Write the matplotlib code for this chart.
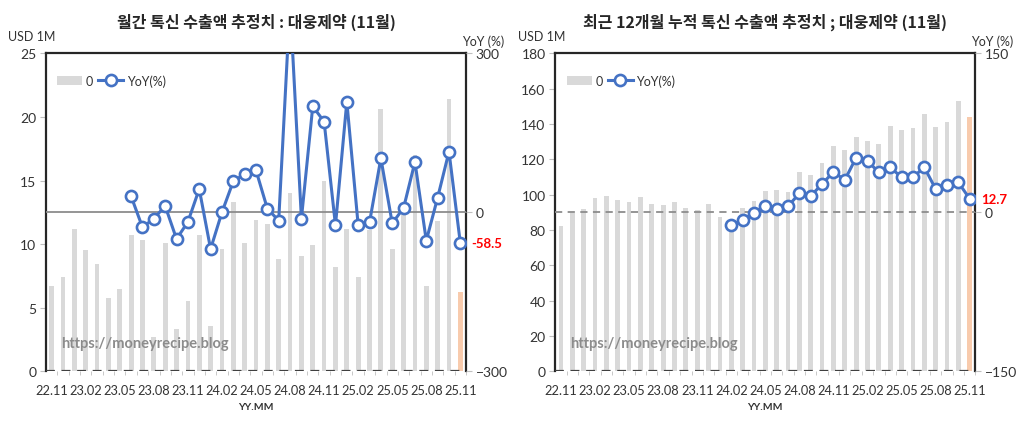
import numpy as np
import matplotlib.pyplot as plt

plt.rcParams['font.family'] = ['Lato', 'Noto Sans CJK KR', 'DejaVu Sans']

# 22.11 ~ 25.11 (37 months)
months = ['22.11', '22.12', '23.01', '23.02', '23.03', '23.04', '23.05', '23.06',
          '23.07', '23.08', '23.09', '23.10', '23.11', '23.12', '24.01', '24.02',
          '24.03', '24.04', '24.05', '24.06', '24.07', '24.08', '24.09', '24.10',
          '24.11', '24.12', '25.01', '25.02', '25.03', '25.04', '25.05', '25.06',
          '25.07', '25.08', '25.09', '25.10', '25.11']
tick_labels = ['22.11', '23.02', '23.05', '23.08', '23.11', '24.02', '24.05',
               '24.08', '24.11', '25.02', '25.05', '25.08', '25.11']

# monthly export estimate (USD 1M)
monthly = [6.7, 7.4, 11.2, 9.5, 8.4, 5.8, 6.5, 10.7, 10.3, 2.7, 10.1, 3.3,
           5.5, 10.7, 3.6, 9.6, 13.3, 10.1, 11.9, 11.6, 8.8, 14.0, 9.1, 9.9,
           15.0, 8.2, 11.2, 7.4, 11.1, 20.6, 9.6, 12.6, 17.0, 6.7, 11.8, 21.4, 6.2]
monthly_yoy = [np.nan] * 7 + [30.2, -28.3, -11.9, 11.9, -50.3, -18.2, 44.0, -69.2,
               0.0, 58.5, 72.3, 79.2, 6.9, -15.7, 395.0, -11.9, 200.0, 171.0,
               -24.5, 208.8, -24.5, -18.9, 101.9, -20.8, 8.2, 95.0, -53.5, 27.7,
               114.5, -58.5]

# trailing 12 month cumulative (USD 1M)
cumul = [82.5, 89.8, 92.1, 97.9, 99.2, 97.0, 95.8, 98.5, 94.9, 94.3, 95.8, 92.5,
         91.5, 94.7, 87.2, 85.0, 92.3, 96.4, 101.9, 102.6, 101.3, 112.6, 111.3,
         118.1, 127.7, 125.1, 132.8, 130.4, 128.5, 138.9, 136.4, 137.5, 145.8,
         138.5, 141.1, 152.8, 143.8]
cumul_yoy = [np.nan] * 15 + [-11.9, -7.5, -0.3, 5.7, 3.5, 5.7, 17.9, 15.4, 26.7,
             38.1, 30.5, 51.6, 48.4, 37.7, 42.5, 33.0, 33.0, 42.5, 22.0, 25.8,
             28.3, 12.7]

BAR_GRAY = '#d9d9d9'
BAR_LAST = '#f8cbad'
BLUE = '#4472c4'


def draw_panel(fig, rect, title, bars, yoy, ylim, yticks, rlim, rticks,
               zero_style, last_label):
    ax = fig.add_axes(rect)
    x = np.arange(len(months))
    colors = [BAR_GRAY] * (len(bars) - 1) + [BAR_LAST]
    ax.bar(x, bars, width=0.42, color=colors, label='0', zorder=2)
    ax.axhline(0, color='#404040', linestyle=(0, (4, 3)), linewidth=1.6, zorder=3)
    ax.set_xlim(-0.5, len(months) - 0.5)
    ax.set_ylim(*ylim)
    ax.set_yticks(yticks)
    ax.set_xticks(x[::3])
    ax.set_xticklabels(tick_labels)
    ax.set_xticks(np.arange(len(months)) + 0.5, minor=True)
    ax.tick_params(axis='x', which='major', length=0, labelsize=9.2,
                   colors='#333333', pad=9)
    ax.tick_params(axis='x', which='minor', length=3, color='#bfbfbf',
                   direction='out')
    ax.tick_params(axis='y', length=4, color='#bfbfbf', labelsize=10,
                   labelcolor='#333333', pad=3)
    for s in ax.spines.values():
        s.set_color('#262626')
        s.set_linewidth(1.6)
    ax.spines['bottom'].set_visible(False)

    ax2 = ax.twinx()
    ax2.axhline(0, color='#8c8c8c', linewidth=1.3, linestyle=zero_style, zorder=1)
    ax2.plot(x, yoy, color=BLUE, linewidth=2.2, marker='o', markersize=8,
             markerfacecolor='white', markeredgecolor=BLUE, markeredgewidth=1.9,
             label='YoY(%)', zorder=4)
    ax2.set_ylim(*rlim)
    ax2.set_yticks(rticks)
    ax2.tick_params(axis='y', length=4, color='#bfbfbf', labelsize=10,
                    labelcolor='#333333', pad=3)
    for s in ax2.spines.values():
        s.set_visible(False)

    ax2.text(len(months) - 0.5 + 0.5, yoy[-1], last_label, color='red',
             fontsize=9.5, fontweight='bold', va='center', ha='left')

    ax.set_title(title, fontsize=11.5, fontweight='bold', color='#262626',
                 family=['Noto Sans CJK KR'], pad=19)
    ax.text(-0.09, 1.035, 'USD 1M', transform=ax.transAxes, fontsize=9,
            color='#333333', ha='left', va='bottom')
    ax.text(1.09, 1.02, 'YoY (%)', transform=ax.transAxes, fontsize=9,
            color='#333333', ha='right', va='bottom')
    ax.text(0.5, -0.095, 'YY.MM', transform=ax.transAxes, fontsize=7.5,
            fontweight='bold', color='#333333', ha='center', va='top')
    ax.text(0.035, 0.09, 'https://moneyrecipe.blog', transform=ax.transAxes,
            fontsize=10.5, fontweight='bold', color='#8c8c8c', ha='left',
            va='center', zorder=5)

    h1, l1 = ax.get_legend_handles_labels()
    h2, l2 = ax2.get_legend_handles_labels()
    ax2.legend(h1 + h2, l1 + l2, loc='upper left', bbox_to_anchor=(0.0, 0.97),
               ncol=2, frameon=False, fontsize=9, handlelength=2.0,
               columnspacing=0.4, handletextpad=0.3, labelcolor='#333333')
    ax2.set_zorder(ax.get_zorder() + 1)
    ax.patch.set_visible(False)
    return ax, ax2


fig = plt.figure(figsize=(10.24, 4.31), dpi=100)

draw_panel(fig, [0.0449, 0.1362, 0.4102, 0.7378],
           '월간 톡신 수출액 추정치 : 대웅제약 (11월)',
           monthly, monthly_yoy, (0, 25), [0, 5, 10, 15, 20, 25],
           (-300, 300), [-300, 0, 300], '-', '-58.5')
draw_panel(fig, [0.5423, 0.1362, 0.4102, 0.7378],
           '최근 12개월 누적 톡신 수출액 추정치 ; 대웅제약 (11월)',
           cumul, cumul_yoy, (0, 180), list(range(0, 181, 20)),
           (-150, 150), [-150, 0, 150], (0, (4, 3)), '12.7')

fig.savefig('out.png', dpi=100)
